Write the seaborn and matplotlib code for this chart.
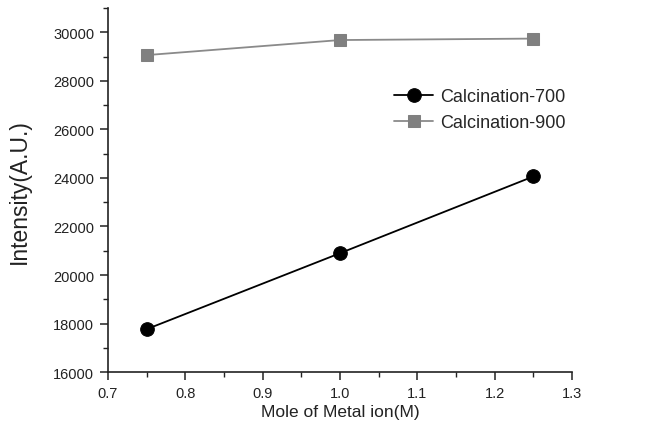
import matplotlib
matplotlib.use("Agg")
import matplotlib.pyplot as plt
from matplotlib.ticker import MultipleLocator
import seaborn as sns
import pandas as pd

mole = [0.75, 1.00, 1.25]
calc_700 = [17770, 20900, 24060]
calc_900 = [29060, 29680, 29740]
series_names = ["Calcination-700", "Calcination-900"]

sns.set_style("ticks")
plt.rcParams["font.family"] = ["Liberation Sans", "DejaVu Sans"]

fig = plt.figure(figsize=(6.53, 4.39), dpi=100)
ax = fig.add_axes([0.1654, 0.150, 0.7106, 0.8295])

df = pd.DataFrame({
    "mole": mole * 2,
    "intensity": calc_700 + calc_900,
    "series": [series_names[0]] * 3 + [series_names[1]] * 3,
})

sns.lineplot(data=df[df.series == series_names[0]], x="mole", y="intensity",
             ax=ax, color="black", marker="o", markersize=9.8, linewidth=1.3,
             markeredgecolor="black", label=series_names[0])
sns.lineplot(data=df[df.series == series_names[1]], x="mole", y="intensity",
             ax=ax, color="#8a8a8a", marker="s", markersize=8.4, linewidth=1.3,
             markeredgecolor="#808080", markerfacecolor="#808080",
             label=series_names[1])

ax.set_xlim(0.7, 1.3)
ax.set_ylim(16000, 31000)
ax.xaxis.set_major_locator(MultipleLocator(0.1))
ax.xaxis.set_minor_locator(MultipleLocator(0.05))
ax.yaxis.set_major_locator(MultipleLocator(2000))
ax.yaxis.set_minor_locator(MultipleLocator(1000))
ax.set_xticklabels([f"{v:.1f}" for v in ax.get_xticks()])

for s in ["top", "right"]:
    ax.spines[s].set_visible(False)
for s in ["left", "bottom"]:
    ax.spines[s].set_linewidth(1.2)
    ax.spines[s].set_color("#222222")

ax.tick_params(axis="both", which="major", direction="out", length=6, width=1.1,
               labelsize=10.5, colors="#222222", pad=4)
ax.tick_params(axis="both", which="minor", direction="out", length=3.5, width=1.0,
               colors="#222222")

ax.set_xlabel("Mole of Metal ion(M)", fontsize=12.5, color="#222222", labelpad=3)
ax.set_ylabel("Intensity(A.U.)", fontsize=16.5, color="#222222", labelpad=16)

ax.legend(loc="upper left", bbox_to_anchor=(0.60, 0.80), frameon=False,
          fontsize=13, handlelength=2.2, handletextpad=0.4, labelspacing=0.5,
          borderaxespad=0)

fig.savefig("out.png", dpi=100)
